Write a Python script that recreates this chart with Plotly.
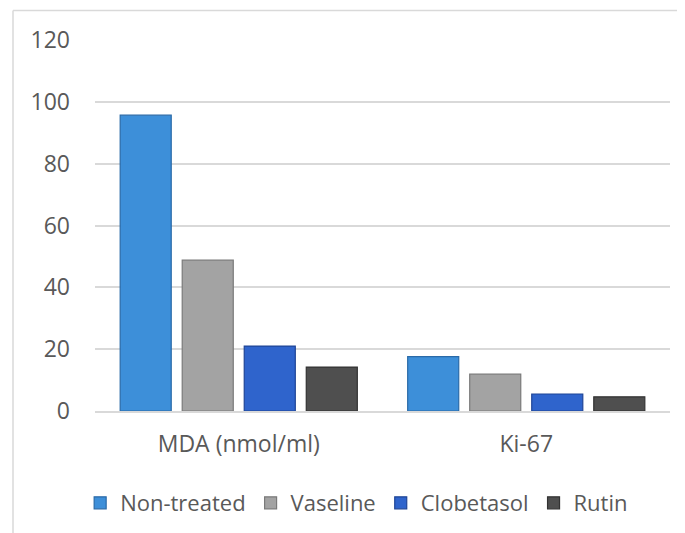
import plotly.graph_objects as go

categories = ["MDA (nmol/ml)", "Ki-67"]
series_names = ["Non-treated", "Vaseline", "Clobetasol", "Rutin"]
non_treated = [95.7, 17.6]
vaseline = [48.8, 11.9]
clobetasol = [21.0, 5.5]
rutin = [14.2, 4.6]
y_ticks = [0, 20, 40, 60, 80, 100, 120]

values = [non_treated, vaseline, clobetasol, rutin]
colors = ["#3D8FD9", "#A3A3A3", "#2F64CC", "#4F4F4F"]
edges = ["#2A6AA8", "#7A7A7A", "#1F4596", "#333333"]

OFF = 8  # page body margin
W, H = 685 - OFF, 533 - OFF
L, R, T, B = 95 - OFF, 15, 40 - OFF, 122
pw = W - L - R
ph = H - T - B

fig = go.Figure()
for name, vals, c, e in zip(series_names, values, colors, edges):
    fig.add_trace(go.Bar(
        x=categories, y=vals, name=name,
        marker=dict(color=c, line=dict(color=e, width=1.2)),
    ))

x_left = (13 - OFF - L) / pw
x_right = (W - L) / pw
y_top = 1 + (T - (10.5 - OFF)) / ph
y_bot = -(B) / ph

fig.update_layout(
    width=W, height=H,
    margin=dict(l=L, r=R, t=T, b=B),
    paper_bgcolor="white", plot_bgcolor="white",
    barmode="group", bargap=0.137, bargroupgap=0.177,
    font=dict(family="Open Sans", size=23, color="#595959"),
    showlegend=True,
    legend=dict(orientation="h", xref="container", yref="container",
                x=0.515, xanchor="center", y=30 / H, yanchor="middle",
                font=dict(size=22, color="#595959"), itemwidth=30),
    xaxis=dict(showgrid=False, showline=True, linecolor="#D9D9D9", linewidth=1.5,
               ticks="", tickfont=dict(size=23), ticklabelstandoff=12),
    yaxis=dict(range=[0, 120], tickvals=y_ticks, showgrid=True, gridcolor="#D9D9D9",
               gridwidth=1.5, zeroline=False, showline=False, ticks="",
               tickfont=dict(size=23), ticklabelstandoff=24),
    shapes=[
        dict(type="line", xref="paper", yref="paper", x0=x_left, x1=x_left, y0=y_bot, y1=y_top,
             line=dict(color="#D9D9D9", width=1.5)),
        dict(type="line", xref="paper", yref="paper", x0=x_left, x1=x_right, y0=y_top, y1=y_top,
             line=dict(color="#D9D9D9", width=1.5)),
    ],
)

fig.write_html("out.html")
